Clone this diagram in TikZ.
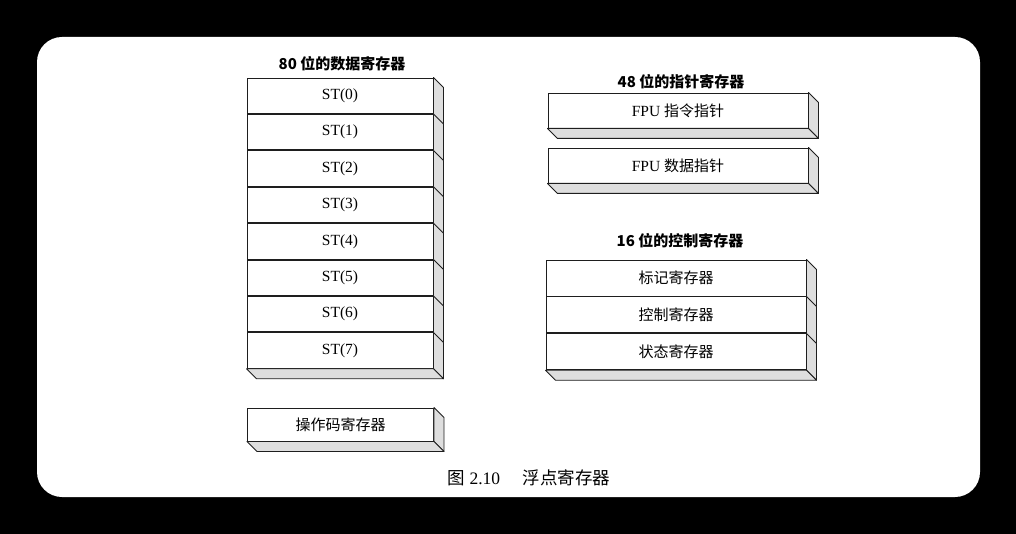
\documentclass[tikz,border=0pt]{standalone}
\usepackage{fontspec}
\setmainfont{Liberation Serif}
\newfontfamily\cjk{Noto Sans CJK SC}
\usepackage{tikz}
\usetikzlibrary{positioning}
\definecolor{EdgeInk}{HTML}{1E1E1E}
\definecolor{ShadeGray}{HTML}{DEDEDE}

\begin{document}
\begin{tikzpicture}[x=1pt, y=-1pt,
      reg/.style={draw=EdgeInk, fill=white, line width=0.9pt,
                  inner sep=0pt, minimum height=35.5pt,
                  font=\fontsize{15.5}{16}\selectfont},
      stk/.style={reg, minimum width=186pt},
      ptr/.style={reg, minimum width=260pt, minimum height=35pt},
      ctl/.style={reg, minimum width=260pt, minimum height=36pt},
      cjklbl/.style={font=\cjk\fontsize{15}{16}\selectfont},
      side/.style={draw=EdgeInk, fill=ShadeGray, line width=0.9pt, line join=round},
      ttl/.style={font=\cjk\bfseries\fontsize{15}{16}\selectfont},
    ]
      % frame
      \fill[black] (0,0) rectangle (1016,534);
      \fill[white, rounded corners=25pt] (37,37) rectangle (980,497);

      % 80-bit data registers
      \node[ttl] (datattl) at (342,64) {80 位的数据寄存器};
      \node[stk] (st0) at (340,95.75) {ST(0)};
      \node[stk, below=0pt of st0] (st1) {ST(1)};
      \node[stk, below=0pt of st1] (st2) {ST(2)};
      \node[stk, below=0pt of st2] (st3) {ST(3)};
      \node[stk, below=0pt of st3] (st4) {ST(4)};
      \node[stk, below=0pt of st4] (st5) {ST(5)};
      \node[stk, below=0pt of st5] (st6) {ST(6)};
      \node[stk, below=0pt of st6] (st7) {ST(7)};
      \draw[side] (st0.north east) -- ++(10,10) -- ([shift={(10,10)}]st7.south east) -- (st7.south east) -- cycle;
      \draw[side] (st7.south west) -- ++(10,10) -- ([shift={(10,10)}]st7.south east) -- (st7.south east) -- cycle;
      \foreach \n in {0,...,6} \draw[side] (st\n.south east) -- ++(10,10);

      % opcode register
      \node[stk, cjklbl, minimum height=33pt] (opc) at (340.5,424.5) {操作码寄存器};
      \draw[side] (opc.north east) -- ++(10,10) -- ([shift={(10,10)}]opc.south east) -- (opc.south east) -- cycle;
      \draw[side] (opc.south west) -- ++(10,10) -- ([shift={(10,10)}]opc.south east) -- (opc.south east) -- cycle;

      % 48-bit pointer registers
      \node[ttl] (ptrttl) at (681,82) {48 位的指针寄存器};
      \node[ptr] (fip) at (678,110.5) {FPU {\cjk\fontsize{15}{16}\selectfont 指令指针}};
      \draw[side] (fip.north east) -- ++(10,10) -- ([shift={(10,10)}]fip.south east) -- (fip.south east) -- cycle;
      \draw[side] (fip.south west) -- ++(10,10) -- ([shift={(10,10)}]fip.south east) -- (fip.south east) -- cycle;
      \node[ptr] (fdp) at (678,165.5) {FPU {\cjk\fontsize{15}{16}\selectfont 数据指针}};
      \draw[side] (fdp.north east) -- ++(10,10) -- ([shift={(10,10)}]fdp.south east) -- (fdp.south east) -- cycle;
      \draw[side] (fdp.south west) -- ++(10,10) -- ([shift={(10,10)}]fdp.south east) -- (fdp.south east) -- cycle;

      % 16-bit control registers
      \node[ttl] (ctlttl) at (680,241) {16 位的控制寄存器};
      \node[ctl, cjklbl] (tag) at (676,278) {标记寄存器};
      \node[ctl, cjklbl, below=0pt of tag] (cw) {控制寄存器};
      \node[ctl, cjklbl, below=0pt of cw] (sw) {状态寄存器};
      \draw[side] (tag.north east) -- ++(10,10) -- ([shift={(10,10)}]sw.south east) -- (sw.south east) -- cycle;
      \draw[side] (sw.south west) -- ++(10,10) -- ([shift={(10,10)}]sw.south east) -- (sw.south east) -- cycle;
      \draw[side] (tag.south east) -- ++(10,10);
      \draw[side] (cw.south east) -- ++(10,10);

      % caption
      \node[font=\fontsize{17.5}{18}\selectfont] (cap) at (529,478) {{\cjk 图} 2.10\hspace{1.3em}{\cjk 浮点寄存器}};
    \end{tikzpicture}
\end{document}
